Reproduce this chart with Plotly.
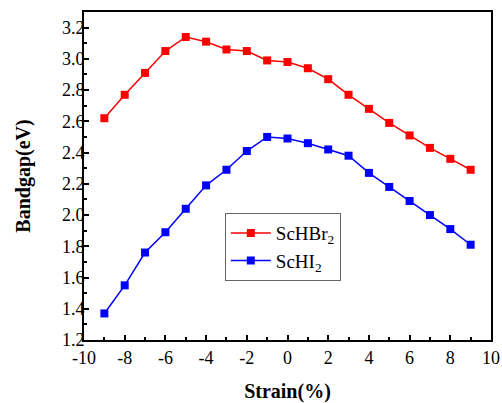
import plotly.graph_objects as go

strain = [-9, -8, -7, -6, -5, -4, -3, -2, -1, 0, 1, 2, 3, 4, 5, 6, 7, 8, 9]
schbr2 = [2.62, 2.77, 2.91, 3.05, 3.14, 3.11, 3.06, 3.05, 2.99, 2.98, 2.94, 2.87, 2.77, 2.68, 2.59, 2.51, 2.43, 2.36, 2.29]
schi2 = [1.37, 1.55, 1.76, 1.89, 2.04, 2.19, 2.29, 2.41, 2.50, 2.49, 2.46, 2.42, 2.38, 2.27, 2.18, 2.09, 2.00, 1.91, 1.81]
xticks = [-10, -8, -6, -4, -2, 0, 2, 4, 6, 8, 10]
yticks = [1.2, 1.4, 1.6, 1.8, 2.0, 2.2, 2.4, 2.6, 2.8, 3.0, 3.2]

fig = go.Figure()
fig.add_trace(go.Scatter(x=strain, y=schbr2, mode="lines+markers", name="ScHBr<sub>2</sub>",
                         line=dict(color="#ff0000", width=1.5),
                         marker=dict(symbol="square", size=8, color="#ff0000")))
fig.add_trace(go.Scatter(x=strain, y=schi2, mode="lines+markers", name="ScHI<sub>2</sub>",
                         line=dict(color="#0000ff", width=1.5),
                         marker=dict(symbol="square", size=8, color="#0000ff")))

font = "Times New Roman, Liberation Serif, serif"
fig.update_layout(
    width=502, height=403,
    margin=dict(l=84, r=11, t=12, b=63),
    paper_bgcolor="white", plot_bgcolor="white",
    font=dict(family=font, size=18, color="black"),
    legend=dict(x=0.346, y=0.387, xanchor="left", yanchor="top",
                bordercolor="#666666", borderwidth=1, bgcolor="white",
                font=dict(family=font, size=19), itemwidth=40, tracegroupgap=2),
    xaxis=dict(range=[-10, 10], tickvals=xticks, ticktext=[str(v) for v in xticks],
               ticks="inside", ticklen=5, tickwidth=2, tickcolor="black",
               showline=True, linecolor="black", linewidth=2, mirror=True,
               showgrid=False, zeroline=False, ticklabelstandoff=0, automargin=False,
               minor=dict(ticks="inside", dtick=1, ticklen=3, tickwidth=2, tickcolor="black"),
               title=dict(text="<b>Strain(%)</b>", font=dict(family=font, size=20), standoff=18),
               tickfont=dict(family=font, size=18)),
    yaxis=dict(range=[1.2, 3.3], tickvals=yticks, ticktext=[f"{v:.1f}" for v in yticks],
               ticks="inside", ticklen=5, tickwidth=2, tickcolor="black",
               showline=True, linecolor="black", linewidth=2, mirror=True,
               showgrid=False, zeroline=False, ticklabelstandoff=-6, automargin=False,
               minor=dict(ticks="inside", dtick=0.1, ticklen=3, tickwidth=2, tickcolor="black"),
               title=dict(text="<b>Bandgap(eV)</b>", font=dict(family=font, size=20), standoff=26),
               tickfont=dict(family=font, size=18)),
)
fig.write_html("out.html")
